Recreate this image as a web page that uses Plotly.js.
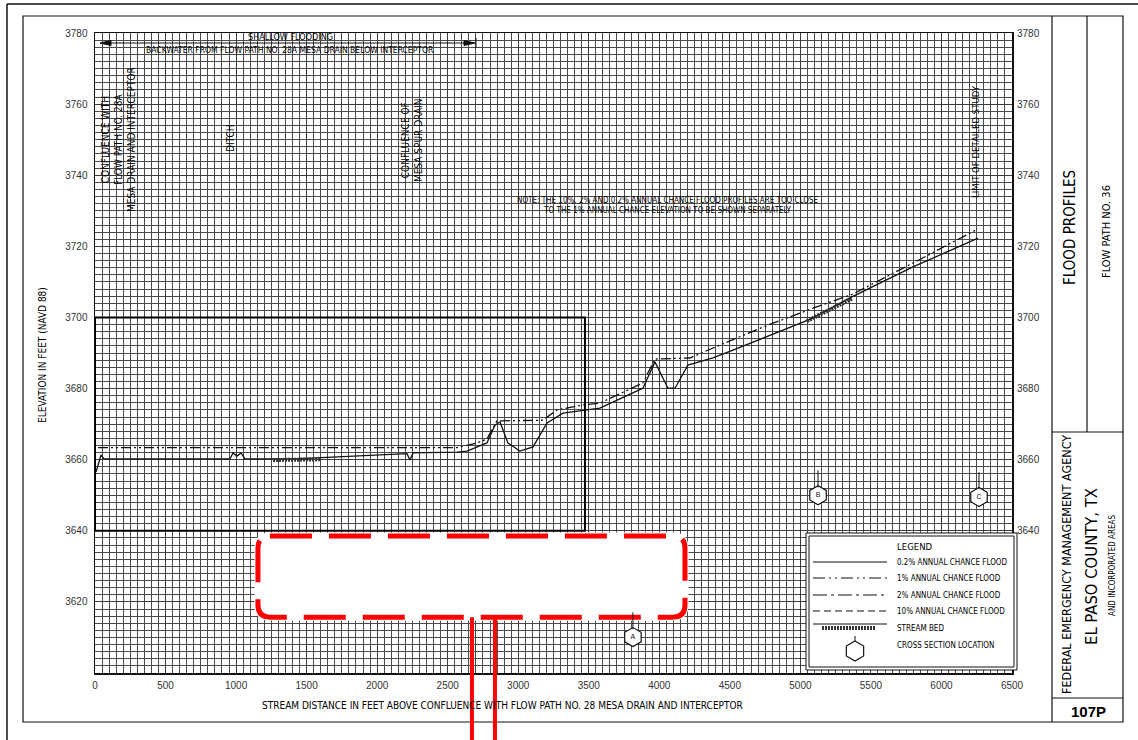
<!DOCTYPE html>
<html><head><meta charset="utf-8">
<script src="https://cdn.plot.ly/plotly-3.0.1.min.js"></script>
<style>html,body{margin:0;padding:0;background:#fff;}#chart{width:1138px;height:740px;}</style>
</head><body><div id="chart"></div>
<script>
// ---------------- DATA ----------------
const xTickVals = [0, 500, 1000, 1500, 2000, 2500, 3000, 3500, 4000, 4500, 5000, 5500, 6000, 6500];
const xTickText = ["0", "500", "1000", "1500", "2000", "2500", "3000", "3500", "4000", "4500", "5000", "5500", "6000", "6500"];
const yTickVals = [3620, 3640, 3660, 3680, 3700, 3720, 3740, 3760, 3780];
const yTickText = ["3620", "3640", "3660", "3680", "3700", "3720", "3740", "3760", "3780"];
const yRightTickVals = [3640, 3660, 3680, 3700, 3720, 3740, 3760, 3780];
const yRightTickText = ["3640", "3660", "3680", "3700", "3720", "3740", "3760", "3780"];

// stream bed (solid line)
const bedX = [7, 43, 64, 957, 978, 1006, 1035, 1063, 1453, 2211, 2233, 2254, 2566, 2637, 2778, 2835, 2871, 2927, 3012, 3105, 3204, 3317, 3487, 3579, 3884, 3969, 4061, 4111, 4203, 4380, 4522, 5089, 5351, 5798, 6259];
const bedY = [3656.5, 3661.3, 3660.2, 3660.2, 3661.9, 3661.0, 3661.9, 3660.2, 3660.3, 3661.7, 3659.9, 3661.9, 3662.1, 3662.4, 3664.7, 3669.7, 3670.6, 3664.7, 3662.4, 3663.6, 3670.3, 3673.1, 3674.0, 3674.5, 3680.1, 3687.5, 3680.1, 3680.1, 3686.6, 3688.6, 3690.8, 3699.8, 3705.5, 3714.2, 3722.3];

// 1% annual chance flood profile
const floodX = [21, 2566, 2708, 2778, 2849, 3175, 3275, 3459, 3579, 3884, 3969, 4217, 4380, 4735, 5089, 5373, 5798, 6259];
const floodY = [3663.4, 3663.4, 3664.7, 3665.8, 3670.9, 3671.1, 3674.0, 3675.4, 3675.9, 3681.6, 3688.3, 3688.6, 3691.4, 3697.3, 3702.6, 3706.6, 3715.3, 3724.9];

// stream-bed hatching segments
const hatch1X = [1262, 1595];
const hatch1Y = [3659.9, 3660.1];
const hatch2X = [5047, 5366];
const hatch2Y = [3699.0, 3705.3];

// cross sections
const xsX = [3813, 5125, 6266];
const xsY = [3610.1, 3650.0, 3649.5];
const xsLabel = ["A", "B", "C"];

// boxes drawn on the profile (data units)
const boxX = [0, 3473];
const boxY = [3640, 3700];
const redBoxX = [1155, 4182];
const redBoxY = [3615.7, 3638.5];
const redLeaderX = [2672, 2835];

// ---------------- LAYOUT HELPERS ----------------
const L = 95, R = 1012, T = 33, B = 673;
const px = x => (x - L) / (R - L);
const py = y => (B - y) / (B - T);
const NARROW = "'Liberation Sans Narrow', 'Arial Narrow', 'DejaVu Sans Condensed', sans-serif";
const SANS = "'Liberation Sans', Arial, sans-serif";
const INK = '#111';

const shapes = [];
const ann = [];

function pline(x0, y0, x1, y1, w, dash, color) {
  shapes.push({type: 'line', xref: 'paper', yref: 'paper', x0: px(x0), y0: py(y0), x1: px(x1), y1: py(y1),
    line: {color: color || INK, width: w || 1, dash: dash || 'solid'}});
}
function prect(x0, y0, x1, y1, w, fill) {
  shapes.push({type: 'rect', xref: 'paper', yref: 'paper', x0: px(x0), y0: py(y0), x1: px(x1), y1: py(y1),
    line: {color: INK, width: w || 1}, fillcolor: fill || 'rgba(0,0,0,0)'});
}
function ppath(pts, fill, w) {
  let d = pts.map((p, i) => (i ? 'L' : 'M') + px(p[0]) + ',' + py(p[1])).join(' ') + ' Z';
  shapes.push({type: 'path', xref: 'paper', yref: 'paper', path: d, fillcolor: fill, line: {color: INK, width: w || 1}});
}
function text(x, y, t, size, opts) {
  opts = opts || {};
  ann.push(Object.assign({xref: 'paper', yref: 'paper', x: px(x), y: py(y), text: t, showarrow: false,
    xanchor: 'center', yanchor: 'middle', font: {family: NARROW, size: size, color: '#000'}}, opts));
}

// page frames
pline(7, 4, 1138, 4, 1.5);
pline(7, 4, 7, 740, 1.5);
prect(23, 16, 1123, 722, 1.2);
// title block
pline(1052, 16, 1052, 722, 1.2);
pline(1087, 16, 1087, 432, 1.2);
pline(1052, 432, 1123, 432, 1.2);
pline(1052, 698, 1123, 698, 1.2);

// black box on profile
shapes.push({type: 'rect', xref: 'x', yref: 'y', x0: boxX[0], x1: boxX[1], y0: boxY[0], y1: boxY[1],
  line: {color: '#000', width: 2}});

// red rounded dashed box
(function () {
  const x0 = redBoxX[0], x1 = redBoxX[1], y0 = redBoxY[0], y1 = redBoxY[1], rx = 85, ry = 3.4;
  const d = `M ${x0 + rx},${y1} L ${x1 - rx},${y1} Q ${x1},${y1} ${x1},${y1 - ry} L ${x1},${y0 + ry} Q ${x1},${y0} ${x1 - rx},${y0} L ${x0 + rx},${y0} Q ${x0},${y0} ${x0},${y0 + ry} L ${x0},${y1 - ry} Q ${x0},${y1} ${x0 + rx},${y1} Z`;
  shapes.push({type: 'path', xref: 'x', yref: 'y', path: d, fillcolor: '#fff', line: {color: '#fff', width: 7}});
  shapes.push({type: 'path', xref: 'x', yref: 'y', path: d, fillcolor: 'rgba(0,0,0,0)', line: {color: '#ff0000', width: 5, dash: '42px,17px'}});
  redLeaderX.forEach(x => shapes.push({type: 'line', xref: 'x', yref: 'paper', x0: x, x1: x,
    y0: (redBoxY[0] - 3600) / 180, y1: py(760), line: {color: '#ff0000', width: 4}}));
})();

// cross-section ticks
xsX.forEach((x, i) => shapes.push({type: 'line', xref: 'x', yref: 'y', x0: x, x1: x, y0: xsY[i] + 2.2, y1: xsY[i] + 7,
  line: {color: INK, width: 1}}));

// shallow flooding arrow
pline(102, 43, 473, 43, 1);
ppath([[100, 43], [111, 40.5], [111, 45.5]], INK, 1);
ppath([[475, 43], [464, 40.5], [464, 45.5]], INK, 1);
pline(476, 38, 476, 48, 1);

// legend box
prect(806, 533, 1017, 670, 1, '#fff');
prect(809, 536, 1014, 667, 1);
pline(813, 562, 887, 562, 1.2);
pline(813, 578, 887, 578, 1.2, '12px,4px,2px,4px,2px,4px');
pline(813, 595, 887, 595, 1.2, '14px,4px,3px,4px');
pline(813, 611, 887, 611, 1.2, '7px,4px');
pline(813, 624, 887, 624, 1.2);
pline(822, 628, 876, 628, 4, '2px,1px', '#333');
(function () {
  const cx = 855, cy = 651, r = 10, rs = r * 0.866;
  ppath([[cx, cy - r], [cx + rs, cy - r / 2], [cx + rs, cy + r / 2], [cx, cy + r], [cx - rs, cy + r / 2], [cx - rs, cy - r / 2]], '#fff', 1.2);
  pline(cx, cy - r - 5, cx, cy - r, 1);
})();

// legend texts
text(895, 546, 'LEGEND', 9.5, {xanchor: 'left'});
text(895, 562, '0.2% ANNUAL CHANCE FLOOD', 8, {xanchor: 'left'});
text(895, 578, '1% ANNUAL CHANCE FLOOD', 8, {xanchor: 'left'});
text(895, 595, '2% ANNUAL CHANCE FLOOD', 8, {xanchor: 'left'});
text(895, 611, '10% ANNUAL CHANCE FLOOD', 8, {xanchor: 'left'});
text(895, 628, 'STREAM BED', 8, {xanchor: 'left'});
text(895, 645, 'CROSS SECTION LOCATION', 8, {xanchor: 'left'});

// axis titles
text(502, 705, 'STREAM DISTANCE IN FEET ABOVE CONFLUENCE WITH FLOW PATH NO. 28 MESA DRAIN AND INTERCEPTOR', 10);
text(42, 355, 'ELEVATION IN FEET (NAVD 88)', 10, {textangle: -90});

// profile labels
text(290, 37, 'SHALLOW FLOODING', 9);
text(290, 50, 'BACKWATER FROM FLOW PATH NO. 28A MESA DRAIN BELOW INTERCEPTOR', 8.5);
text(118, 140, 'CONFLUENCE WITH<br>FLOW PATH NO. 28A<br>MESA DRAIN AND INTERCEPTOR', 10, {textangle: -90});
text(230, 138, 'DITCH', 10, {textangle: -90});
text(412, 140, 'CONFLUENCE OF<br>MESA SPUR DRAIN', 10, {textangle: -90});
text(975, 142, 'LIMIT OF DETAILED STUDY', 9.5, {textangle: -90});
text(668, 206, 'NOTE: THE 10%, 2% AND 0.2% ANNUAL CHANCE FLOOD PROFILES ARE TOO CLOSE<br>TO THE 1% ANNUAL CHANCE ELEVATION TO BE SHOWN SEPARATELY', 8);

// title block
text(1070, 228, 'FLOOD PROFILES', 15, {textangle: -90});
text(1106, 232, 'FLOW PATH NO. 36', 11, {textangle: -90});
text(1066, 565, 'FEDERAL EMERGENCY MANAGEMENT AGENCY', 12.5, {textangle: -90});
text(1091, 567, 'EL PASO COUNTY, TX', 16.5, {textangle: -90});
text(1112, 566, 'AND INCORPORATED AREAS', 8, {textangle: -90});
text(1088, 711, '<b>107P</b>', 15, {font: {family: SANS, size: 15, color: '#000'}});

// ---------------- TRACES ----------------
const traces = [
  {x: bedX, y: bedY, mode: 'lines', name: 'Stream bed', line: {color: INK, width: 1.3}, hoverinfo: 'skip'},
  {x: floodX, y: floodY, mode: 'lines', name: '1% annual chance flood', line: {color: INK, width: 1.3, dash: '10px,3px,2px,3px,2px,3px'}, hoverinfo: 'skip'},
  {x: hatch1X, y: hatch1Y, yaxis: 'y2', mode: 'lines', line: {color: '#333', width: 4, dash: '2px,1px'}, hoverinfo: 'skip'},
  {x: hatch2X, y: hatch2Y, yaxis: 'y2', mode: 'lines', line: {color: '#333', width: 4, dash: '2px,1px'}, hoverinfo: 'skip'},
  {x: xsX, y: xsY, text: xsLabel, mode: 'markers+text', textposition: 'middle center', cliponaxis: false,
    marker: {symbol: 'hexagon', size: 19, color: '#fff', line: {color: INK, width: 1.2}},
    textfont: {family: SANS, size: 7, color: INK}, hoverinfo: 'skip'}
];

const tickfont = {family: SANS, size: 10, color: '#333'};
const layout = {
  width: 1138, height: 740,
  margin: {l: 95, r: 126, t: 33, b: 67, pad: 0},
  paper_bgcolor: '#fff', plot_bgcolor: '#fff',
  showlegend: false,
  xaxis: {range: [0, 6500], tickmode: 'array', tickvals: xTickVals, ticktext: xTickText,
    showgrid: true, gridcolor: '#3a3a3a', gridwidth: 1,
    minor: {tickmode: 'linear', tick0: 0, dtick: 50, showgrid: true, gridcolor: '#4a4a4a', gridwidth: 1},
    showline: true, linecolor: '#111', linewidth: 1.5, mirror: true, ticks: '', zeroline: false,
    tickfont: tickfont, ticklabelstandoff: 2, fixedrange: true},
  yaxis: {range: [3600, 3780], tickmode: 'array', tickvals: yTickVals, ticktext: yTickText,
    showgrid: true, gridcolor: '#3a3a3a', gridwidth: 1,
    minor: {tickmode: 'linear', tick0: 3600, dtick: 2, showgrid: true, gridcolor: '#4a4a4a', gridwidth: 1},
    showline: true, linecolor: '#111', linewidth: 1.5, mirror: true, ticks: '', zeroline: false,
    tickfont: tickfont, ticklabelstandoff: 4, fixedrange: true},
  yaxis2: {range: [3600, 3780], overlaying: 'y', side: 'right', tickmode: 'array', tickvals: yRightTickVals, ticktext: yRightTickText,
    showgrid: false, zeroline: false, ticks: '', showline: false, tickfont: tickfont, ticklabelstandoff: 4, fixedrange: true},
  shapes: shapes,
  annotations: ann
};

Plotly.newPlot('chart', traces, layout, {staticPlot: true, displayModeBar: false});
</script>
</body></html>
